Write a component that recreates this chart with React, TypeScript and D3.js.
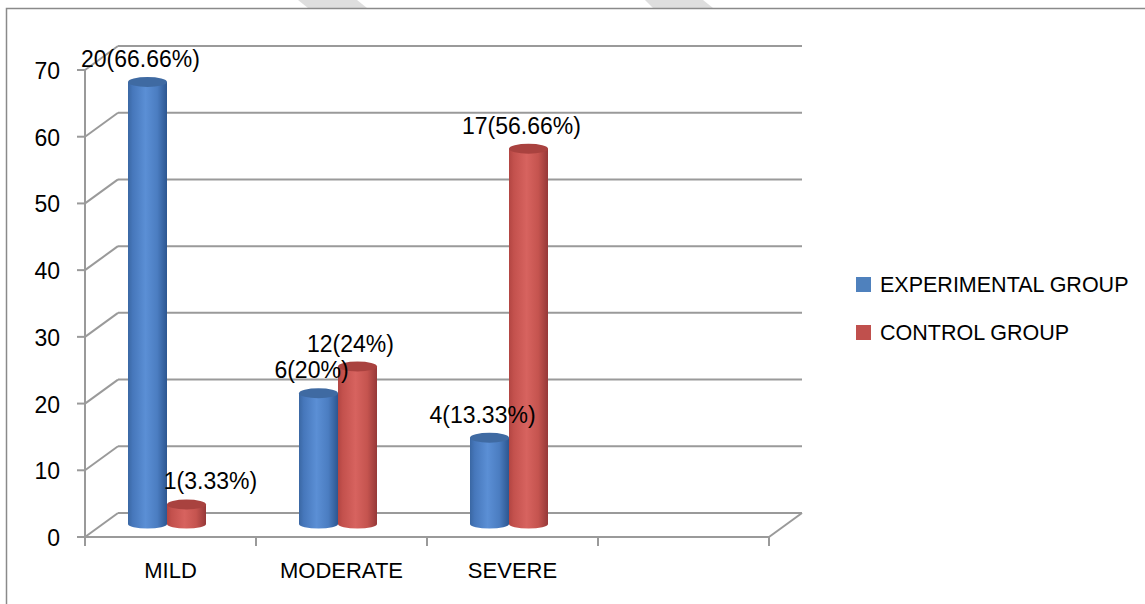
import React from "react";
import * as d3 from "d3";

const categories = ["MILD", "MODERATE", "SEVERE", ""];
const seriesNames = ["EXPERIMENTAL GROUP", "CONTROL GROUP"];
const experimental = [66.66, 20, 13.33];
const control = [3.33, 24, 56.66];
const experimentalLabels = ["20(66.66%)", "6(20%)", "4(13.33%)"];
const controlLabels = ["1(3.33%)", "12(24%)", "17(56.66%)"];
const yTicks = [0, 10, 20, 30, 40, 50, 60, 70];

const W = 1145;
const H = 604;
const FONT = "'Liberation Sans', Arial, sans-serif";
const DEPTH_DX = 33;
const DEPTH_DY = -24;
const BAR_W = 39;
const GRID = "#9a9a9a";

const x = d3.scaleBand<string>().domain(categories).range([85, 769]).paddingInner(0).paddingOuter(0);
const yFront = d3.scaleLinear().domain([0, 70]).range([537, 70]);
const yBack = (v: number) => yFront(v) + DEPTH_DY;
const yBar = d3.scaleLinear().domain([0, 70]).range([526.7, 526.7 - 467]);
const BASE_Y = 524;

const palette = {
  blue: { id: "gBlue", top: "#3f6aa2", legend: "#4f81bd", stops: ["#3a67a3", "#4677bb", "#5b8fd5", "#4b7dc1", "#2c5690"] },
  red: { id: "gRed", top: "#a9423f", legend: "#c0504d", stops: ["#b24542", "#c3514d", "#d7635f", "#c5544f", "#963838"] },
};

// manual nudges on data labels (the reference moved one label)
const labelNudge: Record<string, number> = { "1(3.33%)": 31 };

function Cylinder({ cx, v, col }: { cx: number; v: number; col: typeof palette.blue }) {
  const top = yBar(v);
  const rx = BAR_W / 2;
  const ry = 5;
  const rb = 4.5;
  const body = `M${cx - rx},${top} L${cx - rx},${BASE_Y} A${rx},${rb} 0 0 0 ${cx + rx},${BASE_Y} L${cx + rx},${top} Z`;
  return (
    <g>
      <path d={body} fill={`url(#${col.id})`} />
      <ellipse cx={cx} cy={top} rx={rx} ry={ry} fill={col.top} />
    </g>
  );
}

export default function App() {
  const cats = categories.filter((c) => c !== "");
  const lines: JSX.Element[] = [];
  const xL = x.range()[0];
  const xR = x.range()[1];
  yTicks.forEach((v, i) => {
    const yf = yFront(v);
    const yb = yBack(v);
    lines.push(<line key={"d" + i} x1={xL} y1={yf} x2={xL + DEPTH_DX} y2={yb} stroke={GRID} strokeWidth={2} />);
    lines.push(<line key={"b" + i} x1={xL + DEPTH_DX} y1={yb} x2={xR + DEPTH_DX} y2={yb} stroke={GRID} strokeWidth={2} />);
    lines.push(<line key={"t" + i} x1={xL - 8} y1={yf} x2={xL} y2={yf} stroke={GRID} strokeWidth={2} />);
  });
  const edges = [...categories.map((c) => x(c) as number), xR];
  return (
    <svg width={W} height={H} style={{ position: "absolute", left: 0, top: 0, background: "#fff" }}>
      <defs>
        {[palette.blue, palette.red].map((p) => (
          <linearGradient key={p.id} id={p.id} x1="0" x2="1" y1="0" y2="0">
            {p.stops.map((s, i) => (
              <stop key={i} offset={[0, 0.12, 0.45, 0.75, 1][i]} stopColor={s} />
            ))}
          </linearGradient>
        ))}
      </defs>
      <rect width={W} height={H} fill="#fff" />
      {/* watermark fragments */}
      <polygon points="298,0 357,0 367,8 308,8" fill="#dedede" />
      <polygon points="645,0 703,0 713,8 653,8" fill="#dedede" />
      <rect x={6.5} y={8.5} width={W + 10} height={H + 10} fill="none" stroke="#8a8a8a" strokeWidth={1.5} />

      {lines}
      {/* floor front and right edge */}
      <line x1={xL - 8} y1={yFront(0)} x2={xR} y2={yFront(0)} stroke={GRID} strokeWidth={2} />
      <line x1={xR} y1={yFront(0)} x2={xR + DEPTH_DX} y2={yBack(0)} stroke={GRID} strokeWidth={2} />
      <line x1={xL} y1={yFront(70)} x2={xL} y2={yFront(0) + 8} stroke={GRID} strokeWidth={2} />
      {edges.map((ex, i) => (
        <line key={"ct" + i} x1={ex} y1={yFront(0)} x2={ex} y2={yFront(0) + 9} stroke={GRID} strokeWidth={2} />
      ))}

      {yTicks.map((v) => (
        <text key={"yl" + v} x={60} y={yFront(v) + 1} dy="0.35em" textAnchor="end" fontFamily={FONT} fontSize={23} fill="#000">
          {v}
        </text>
      ))}
      {categories.map((c) => (
        <text key={"cl" + c} x={(x(c) as number) + x.bandwidth() / 2} y={578} textAnchor="middle" fontFamily={FONT} fontSize={22} fill="#000">
          {c}
        </text>
      ))}

      {cats.map((c, i) => {
        const center = (x(c) as number) + x.bandwidth() / 2 - 3.5;
        return (
          <g key={"bars" + c}>
            <Cylinder cx={center - BAR_W / 2} v={experimental[i]} col={palette.blue} />
            <Cylinder cx={center + BAR_W / 2} v={control[i]} col={palette.red} />
          </g>
        );
      })}

      {cats.map((c, i) => {
        const center = (x(c) as number) + x.bandwidth() / 2 - 3.5;
        const items = [
          { cx: center - BAR_W / 2, v: experimental[i], t: experimentalLabels[i] },
          { cx: center + BAR_W / 2, v: control[i], t: controlLabels[i] },
        ];
        return items.map((it, j) => (
          <text
            key={"dl" + c + j}
            x={it.cx - 7 + (labelNudge[it.t] || 0)}
            y={yBar(it.v) - 15}
            textAnchor="middle"
            fontFamily={FONT}
            fontSize={23}
            fill="#000"
          >
            {it.t}
          </text>
        ));
      })}

      {seriesNames.map((s, i) => (
        <g key={"lg" + i}>
          <rect x={856} y={277 + i * 48} width={15} height={15} fill={i === 0 ? palette.blue.legend : palette.red.legend} />
          <text x={880} y={292 + i * 48} fontFamily={FONT} fontSize={21.5} fill="#000">
            {s}
          </text>
        </g>
      ))}
    </svg>
  );
}
